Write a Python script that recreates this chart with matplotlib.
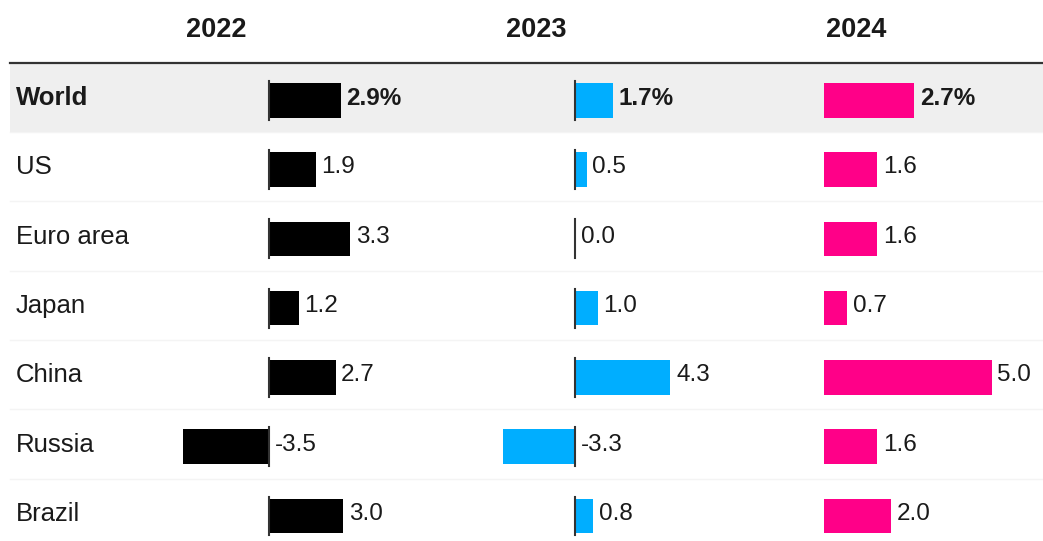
import matplotlib
matplotlib.use('Agg')
import matplotlib.pyplot as plt

# data
countries = ['World', 'US', 'Euro area', 'Japan', 'China', 'Russia', 'Brazil']
years = ['2022', '2023', '2024']
growth_2022 = [2.9, 1.9, 3.3, 1.2, 2.7, -3.5, 3.0]
growth_2023 = [1.7, 0.5, 0.0, 1.0, 4.3, -3.3, 0.8]
growth_2024 = [2.7, 1.6, 1.6, 0.7, 5.0, 1.6, 2.0]
colors = ['#000000', '#00aeff', '#ff0088']

plt.rcParams['font.family'] = ['Liberation Sans', 'DejaVu Sans']
W, H = 1043, 541
fig = plt.figure(figsize=(W / 100, H / 100), dpi=100)

# row geometry (pixels): row centre of first row, row height
c0, rh = 97.5, 69.3
ylim = ((H - c0) / rh, (0 - c0) / rh)

bg = fig.add_axes([0, 0, 1, 1])
bg.set_xlim(0, W)
bg.set_ylim(*ylim)
bg.axis('off')

# World band and separators
bg.fill_between([10, W], -0.5, 0.5, color='#efefef', lw=0)
bg.plot([10, W], [-0.5, -0.5], color='#333333', lw=1.6)
for i in range(1, len(countries)):
    bg.plot([10, W], [i - 0.5, i - 0.5], color='#f4f4f4', lw=1)

for i, name in enumerate(countries):
    bg.text(16, i + 0.01, name, fontsize=18.5, color='#1a1a1a', va='center',
            ha='left', fontweight='bold' if i == 0 else 'normal')

header_x = [216, 536, 856]
for x, yr in zip(header_x, years):
    bg.text(x, -0.98, yr, fontsize=19.5, fontweight='bold', color='#1a1a1a',
            ha='center', va='center')

col_left = [184, 504, 825]
col_width = 168
series = [growth_2022, growth_2023, growth_2024]
for left, vals, col in zip(col_left, series, colors):
    ax = fig.add_axes([(left - 1.5) / W, 0, col_width / W, 1])
    ax.set_ylim(*ylim)
    ax.set_xlim(min(0, min(vals)), max(vals))
    ax.axis('off')
    ax.patch.set_alpha(0)
    rows = [i + 0.04 for i in range(len(vals))]
    ax.barh(rows, vals, height=0.5, color=col, clip_on=False)
    if min(vals) < 0:
        for r in rows:
            ax.plot([0, 0], [r - 0.28, r + 0.28], color='#333333', lw=1.5,
                    clip_on=False)
    for i, (r, v) in enumerate(zip(rows, vals)):
        txt = '%.1f%%' % v if i == 0 else '%.1f' % v
        ax.annotate(txt, (max(v, 0), r - 0.03), xytext=(4, 0),
                    textcoords='offset points', fontsize=17.5, color='#1a1a1a',
                    va='center', ha='left', annotation_clip=False,
                    fontweight='bold' if i == 0 else 'normal')

fig.savefig('out.png', dpi=100)
